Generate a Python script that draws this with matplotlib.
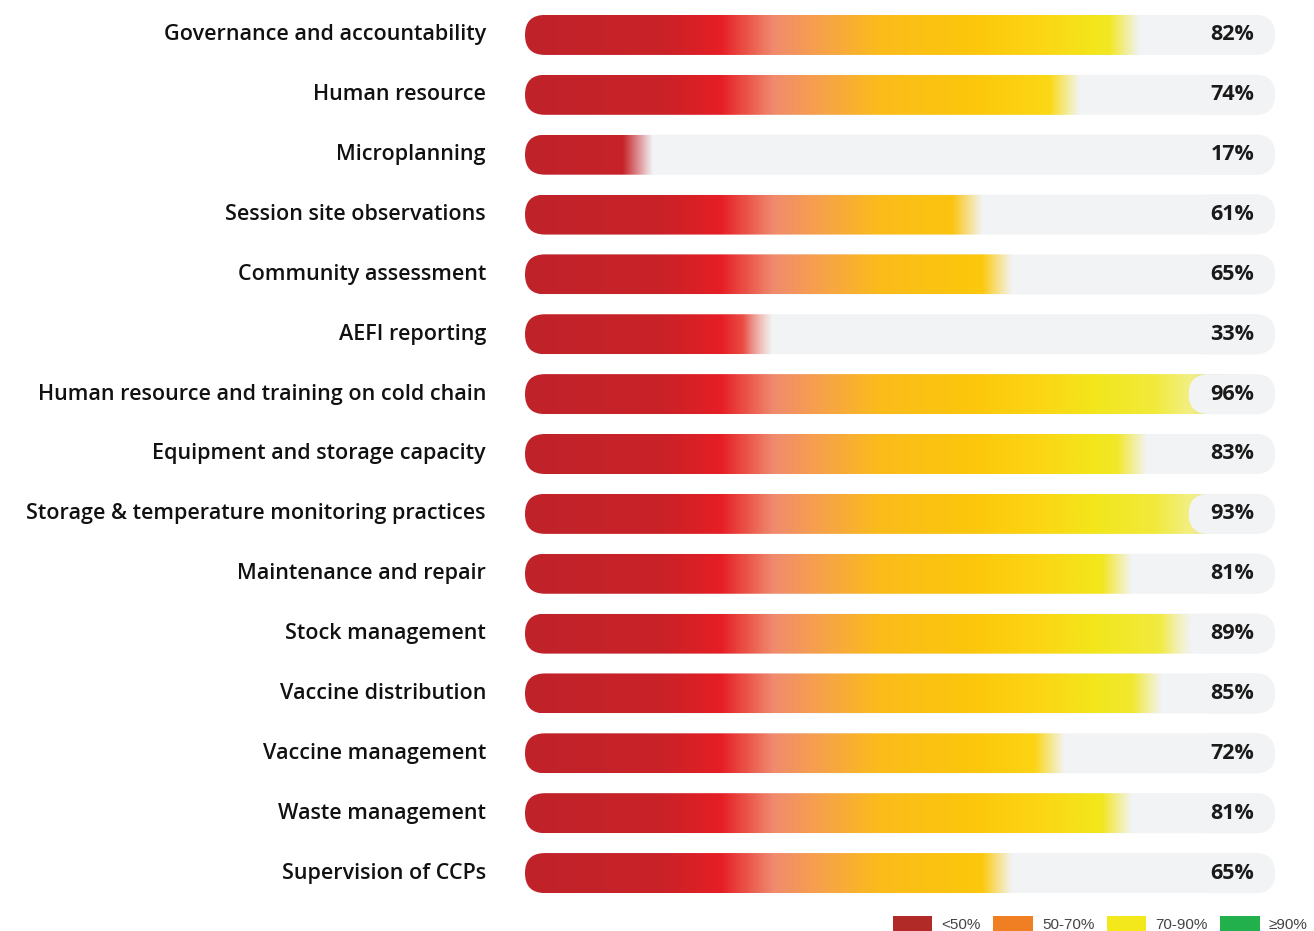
import numpy as np
import matplotlib
matplotlib.use("Agg")
import matplotlib.pyplot as plt
from matplotlib.patches import FancyBboxPatch, Patch
from matplotlib.colors import LinearSegmentedColormap

categories = [
    "Governance and accountability",
    "Human resource",
    "Microplanning",
    "Session site observations",
    "Community assessment",
    "AEFI reporting",
    "Human resource and training on cold chain",
    "Equipment and storage capacity",
    "Storage & temperature monitoring practices",
    "Maintenance and repair",
    "Stock management",
    "Vaccine distribution",
    "Vaccine management",
    "Waste management",
    "Supervision of CCPs",
]
scores = [82, 74, 17, 61, 65, 33, 96, 83, 93, 81, 89, 85, 72, 81, 65]

legend_labels = ["<50%", "50-70%", "70-90%", "\u226590%"]
legend_colors = ["#b22a28", "#f07f24", "#f2e81c", "#21b04b"]

# colour ramp along the bar (position 0..1)
ramp = LinearSegmentedColormap.from_list("ramp", [
    (0.00, "#c0232b"), (0.18, "#c92228"), (0.26, "#e61e25"),
    (0.33, "#f08a6e"), (0.39, "#f6a04d"), (0.47, "#fbbb1c"),
    (0.60, "#fcc70c"), (0.68, "#fdd414"), (0.76, "#f3e61b"),
    (0.84, "#f1ea3a"), (0.89, "#f3ef86"), (0.93, "#cfd964"),
    (1.00, "#8fbc45"),
])

plt.rcParams['font.family'] = ['Open Sans', 'DejaVu Sans']

fig = plt.figure(figsize=(13.14, 9.31), dpi=100)
# bar axes: x 0..100 maps onto the capsule track
ax = fig.add_axes([525 / 1314, 28 / 931, 750 / 1314, 898 / 931])
n = len(categories)
ax.set_xlim(0, 100)
ax.set_ylim(n - 0.5, -0.5)
ax.axis("off")

px_x = 750 / 100.0      # pixels per x unit
px_y = 898 / n          # pixels per y unit
h = 40 / px_y           # bar height in data units
r = 20 / px_x           # rounding in x units
asp = px_x / px_y

xs = np.linspace(0, 100, 800)
base = ramp(xs / 100.0)

for i, (cat, v) in enumerate(zip(categories, scores)):
    track = FancyBboxPatch((0, i - h / 2), 100, h,
                           boxstyle=f"round,pad=0,rounding_size={r}",
                           mutation_aspect=asp, fc="#f2f3f5", ec="none", zorder=1)
    ax.add_patch(track)

    img = base.copy()
    fade = 4.0
    img[:, 3] = np.clip((v - xs) / fade, 0, 1)
    im = ax.imshow(img[np.newaxis, :, :], extent=(0, 100, i + h / 2, i - h / 2),
                   aspect="auto", interpolation="bilinear", zorder=2)
    im.set_clip_path(track)

    pill = FancyBboxPatch((88.5, i - h / 2), 11.5, h,
                          boxstyle=f"round,pad=0,rounding_size={r}",
                          mutation_aspect=asp, fc="#f2f3f5", ec="none", zorder=3)
    ax.add_patch(pill)

    ax.text(94.3, i, f"{v}%", ha="center", va="center", fontsize=15.5,
            fontweight="bold", color="#1a1a1a", zorder=4)
    ax.text(-5.2, i, cat, ha="right", va="center", fontsize=15.5,
            fontweight="semibold", color="#111111", clip_on=False)

handles = [Patch(fc=c, ec="none") for c in legend_colors]
fig.legend(handles, legend_labels, loc="center right",
           bbox_to_anchor=(1.0, 7 / 931), ncol=4, frameon=False,
           prop={"family": ["Liberation Sans", "DejaVu Sans"], "size": 11},
           labelcolor="#444444", handlelength=2.6, handleheight=1.1,
           handletextpad=0.6, columnspacing=0.8, borderaxespad=0.0)

fig.savefig("out.png", dpi=100, facecolor="white")
